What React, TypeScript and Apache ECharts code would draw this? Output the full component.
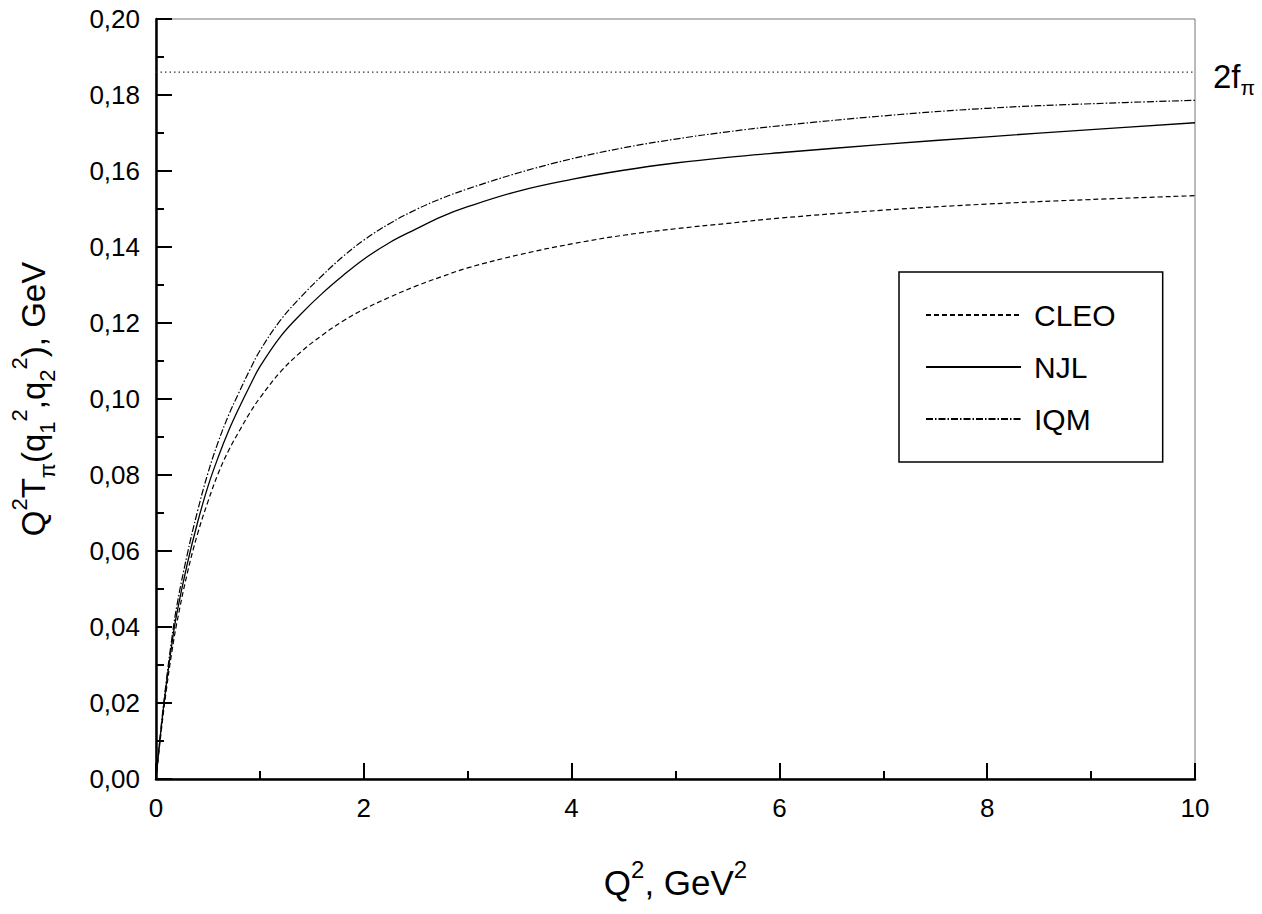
import React, { useEffect, useRef } from "react";
import * as echarts from "echarts";

// Q^2 in GeV^2
const q2 = [0, 0.05, 0.1, 0.15, 0.2, 0.3, 0.4, 0.5, 0.6, 0.7, 0.8, 0.9, 1.0, 1.2, 1.4, 1.6, 1.8, 2.0, 2.25, 2.5, 2.75, 3.0, 3.5, 4, 4.5, 5, 5.5, 6, 7, 8, 9, 10];
const cleo = [0, 0.0125, 0.0235, 0.033, 0.041, 0.054, 0.0645, 0.073, 0.0805, 0.0865, 0.0915, 0.0962, 0.1003, 0.1072, 0.1125, 0.1168, 0.1205, 0.1236, 0.1268, 0.1297, 0.1322, 0.1345, 0.138, 0.1408, 0.1431, 0.1448, 0.1462, 0.1476, 0.1497, 0.1513, 0.1525, 0.1535];
const njl = [0, 0.0135, 0.025, 0.035, 0.0435, 0.0565, 0.0675, 0.077, 0.0848, 0.0917, 0.0977, 0.1033, 0.1085, 0.1165, 0.1225, 0.1278, 0.1325, 0.1368, 0.1412, 0.1447, 0.148, 0.1506, 0.1548, 0.1578, 0.1602, 0.1621, 0.1636, 0.1648, 0.167, 0.169, 0.1709, 0.1727];
const iqm = [0, 0.014, 0.026, 0.0365, 0.0455, 0.059, 0.0705, 0.0805, 0.0888, 0.0958, 0.1018, 0.1075, 0.1127, 0.1208, 0.127, 0.1325, 0.1375, 0.1418, 0.1462, 0.1498, 0.1528, 0.1553, 0.1596, 0.1632, 0.1661, 0.1684, 0.1703, 0.1719, 0.1745, 0.1765, 0.1777, 0.1786];
const twoFpi = 0.186;
const xLimits = [0, 10];
const yLimits = [0, 0.2];

const FONT = "'Liberation Sans', Arial, sans-serif";

const pairs = (ys: number[]) => q2.map((x, i) => [x, ys[i]]);

export default function App() {
  const ref = useRef<HTMLDivElement>(null);
  useEffect(() => {
    const chart = echarts.init(ref.current!, null, { renderer: "svg" });
    const lineBase = { type: "line", showSymbol: false, symbol: "none", smooth: 0.4, silent: true, color: "#000" };
    chart.setOption({
      animation: false,
      backgroundColor: "#ffffff",
      textStyle: { fontFamily: FONT, color: "#000" },
      grid: { left: 155, top: 19, right: 67, bottom: 135, show: true, borderColor: "#777", borderWidth: 1 },
      legend: {
        data: ["CLEO", "NJL", "IQM"],
        orient: "vertical",
        left: 899,
        top: 272,
        selectedMode: false,
        borderColor: "#000",
        borderWidth: 1.5,
        padding: [28, 47, 28, 26],
        itemWidth: 95,
        itemHeight: 14,
        itemGap: 22,
        itemStyle: { opacity: 0 },
        textStyle: { fontFamily: FONT, fontSize: 30, color: "#000", padding: [0, 0, 0, 8] },
      },
      xAxis: {
        type: "value",
        min: xLimits[0],
        max: xLimits[1],
        interval: 2,
        name: "{n|Q}{sup|2}{n|, GeV}{sup|2}",
        nameLocation: "middle",
        nameGap: 78,
        nameTextStyle: {
          rich: {
            n: { fontSize: 35, lineHeight: 50, fontFamily: FONT, color: "#000" },
            sup: { fontSize: 24, lineHeight: 26, verticalAlign: "top", fontFamily: FONT, color: "#000" },
          },
        },
        axisLine: { lineStyle: { color: "#000", width: 2.5 } },
        axisTick: { inside: true, length: 16, lineStyle: { color: "#000", width: 2 } },
        minorTick: { show: true, splitNumber: 2, length: 8, lineStyle: { color: "#000", width: 2 } },
        splitLine: { show: false },
        axisLabel: { fontSize: 26, color: "#000", margin: 16, fontFamily: FONT },
      },
      yAxis: {
        type: "value",
        min: yLimits[0],
        max: yLimits[1],
        interval: 0.02,
        name: "{n|Q}{sup|2}{n|T}{sub|π}{n|(q}{sub|1}{sup|2}{n|,q}{sub|2}{sup|2}{n|), GeV}",
        nameLocation: "middle",
        nameGap: 98,
        nameRotate: 90,
        nameTextStyle: {
          rich: {
            n: { fontSize: 33, lineHeight: 50, fontFamily: FONT, color: "#000" },
            sup: { fontSize: 22, lineHeight: 26, verticalAlign: "top", fontFamily: FONT, color: "#000" },
            sub: { fontSize: 22, lineHeight: 16, verticalAlign: "bottom", fontFamily: FONT, color: "#000" },
          },
        },
        axisLine: { lineStyle: { color: "#000", width: 2.5 } },
        axisTick: { inside: true, length: 16, lineStyle: { color: "#000", width: 2 } },
        minorTick: { show: true, splitNumber: 2, length: 8, lineStyle: { color: "#000", width: 2 } },
        splitLine: { show: false },
        axisLabel: {
          fontSize: 26,
          color: "#000",
          margin: 16,
          fontFamily: FONT,
          formatter: (v: number) => v.toFixed(2).replace(".", ","),
        },
      },
      series: [
        {
          ...lineBase,
          name: "2fπ",
          smooth: false,
          data: [[xLimits[0], twoFpi], [xLimits[1], twoFpi]],
          lineStyle: { color: "#333", width: 1.2, type: [1.5, 3] },
          endLabel: {
            show: true,
            distance: 18,
            formatter: "{n|2f}{sub|π}",
            padding: [8, 0, 0, 0],
            rich: {
              n: { fontSize: 33, lineHeight: 44, fontFamily: FONT, color: "#000" },
              sub: { fontSize: 21, lineHeight: 14, verticalAlign: "bottom", fontFamily: FONT, color: "#000" },
            },
          },
        },
        { ...lineBase, name: "CLEO", data: pairs(cleo), lineStyle: { color: "#000", width: 1.2, type: [5, 3] } },
        { ...lineBase, name: "NJL", data: pairs(njl), lineStyle: { color: "#000", width: 1.3, type: "solid" } },
        { ...lineBase, name: "IQM", data: pairs(iqm), lineStyle: { color: "#000", width: 1.2, type: [7, 2, 1.5, 2] } },
      ],
    } as any);
    return () => chart.dispose();
  }, []);
  return <div ref={ref} style={{ position: "fixed", left: 0, top: 0, width: 1262, height: 914 }} />;
}
